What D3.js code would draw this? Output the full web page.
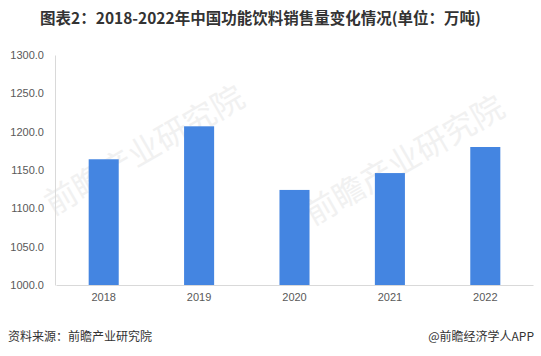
<!DOCTYPE html>
<html><head><meta charset="utf-8">
<script src="https://cdn.jsdelivr.net/npm/d3@7"></script>
<style>
body{margin:0;background:#fff;}
svg{display:block;}
</style></head>
<body><svg id="c" width="541" height="356"></svg>
<script>
const years = ["2018","2019","2020","2021","2022"];
const sales = [1164, 1207, 1124, 1146, 1180];
const yTicks = [1000,1050,1100,1150,1200,1250,1300];
const titleText = "图表2：2018-2022年中国功能饮料销售量变化情况(单位：万吨)";
const sourceText = "资料来源：前瞻产业研究院";
const creditText = "@前瞻经济学人APP";

(function(){
const svg = d3.select("#c");
const font = "'Microsoft YaHei','Noto Sans CJK SC','Liberation Sans',sans-serif";
const pL = 56, pR = 533, pT = 55, pB = 285;

svg.append("rect").attr("width",541).attr("height",356).attr("fill","#fff");

const x = d3.scaleBand().domain(years).range([pL,pR]).padding(0);
const y = d3.scaleLinear().domain([1000,1300]).range([pB,pT]);
const barW = x.bandwidth()*0.315;

// watermark
const wm = svg.append("g").attr("fill","#f1f1f1").attr("font-family",font);
[[150,160],[410,170]].forEach(([cx,cy])=>{
  wm.append("text").attr("transform",`translate(${cx},${cy}) rotate(-30)`).attr("text-anchor","middle")
    .attr("font-size",32).text("前瞻产业研究院");
});

// bars
svg.append("g").selectAll("rect").data(years).join("rect")
  .attr("x",d=>x(d)+x.bandwidth()/2-barW/2)
  .attr("y",(d,i)=>y(sales[i]))
  .attr("width",barW)
  .attr("height",(d,i)=>pB-y(sales[i]))
  .attr("fill","#4485E1");

// y axis
const ya = svg.append("g").attr("transform",`translate(${pL-1},0)`)
  .call(d3.axisLeft(y).tickValues(yTicks).tickFormat(d3.format(".1f")).tickSize(0).tickPadding(11));
ya.select(".domain").attr("stroke","#d9d9d9");
ya.selectAll("text").attr("font-family","'Liberation Sans',Arial,sans-serif").attr("font-size",11).attr("fill","#595959");

// x axis
const xa = svg.append("g").attr("transform",`translate(0,${pB})`)
  .call(d3.axisBottom(x).tickSize(0).tickPadding(8));
xa.select(".domain").attr("stroke","#d9d9d9");
xa.selectAll("text").attr("font-family","'Liberation Sans',Arial,sans-serif").attr("font-size",11).attr("fill","#595959");

// title
svg.append("text").attr("x",260.5).attr("y",24).attr("text-anchor","middle")
  .attr("font-family",font).attr("font-weight","bold").attr("font-size",15.5).attr("fill","#333")
  .text(titleText);

// footer
svg.append("text").attr("x",8).attr("y",341).attr("font-family",font).attr("font-size",12).attr("fill","#333").text(sourceText);
svg.append("text").attr("x",534).attr("y",341).attr("text-anchor","end").attr("font-family",font).attr("font-size",12).attr("fill","#333").text(creditText);
})();
</script></body></html>
